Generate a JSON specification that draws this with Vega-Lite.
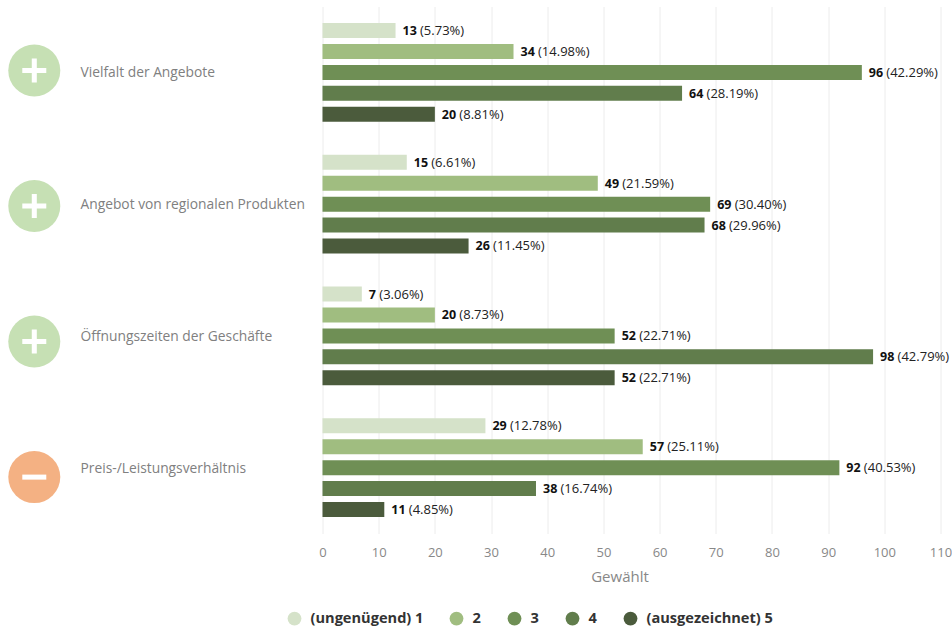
{
"$schema":"https://vega.github.io/schema/vega-lite/v6.json",
"width":618,"height":527,
"autosize":{"type":"none"},
"padding":{"left":322.5,"top":6.5,"right":11.5,"bottom":96.5},
"background":"white",
"config":{"view":{"stroke":null},"font":"Open Sans"},
"datasets":{
"rows":[
{"item":"Vielfalt der Angebote","rating":"(ungenügend) 1","count":13,"pct":"(5.73%)"},
{"item":"Vielfalt der Angebote","rating":"2","count":34,"pct":"(14.98%)"},
{"item":"Vielfalt der Angebote","rating":"3","count":96,"pct":"(42.29%)"},
{"item":"Vielfalt der Angebote","rating":"4","count":64,"pct":"(28.19%)"},
{"item":"Vielfalt der Angebote","rating":"(ausgezeichnet) 5","count":20,"pct":"(8.81%)"},
{"item":"Angebot von regionalen Produkten","rating":"(ungenügend) 1","count":15,"pct":"(6.61%)"},
{"item":"Angebot von regionalen Produkten","rating":"2","count":49,"pct":"(21.59%)"},
{"item":"Angebot von regionalen Produkten","rating":"3","count":69,"pct":"(30.40%)"},
{"item":"Angebot von regionalen Produkten","rating":"4","count":68,"pct":"(29.96%)"},
{"item":"Angebot von regionalen Produkten","rating":"(ausgezeichnet) 5","count":26,"pct":"(11.45%)"},
{"item":"Öffnungszeiten der Geschäfte","rating":"(ungenügend) 1","count":7,"pct":"(3.06%)"},
{"item":"Öffnungszeiten der Geschäfte","rating":"2","count":20,"pct":"(8.73%)"},
{"item":"Öffnungszeiten der Geschäfte","rating":"3","count":52,"pct":"(22.71%)"},
{"item":"Öffnungszeiten der Geschäfte","rating":"4","count":98,"pct":"(42.79%)"},
{"item":"Öffnungszeiten der Geschäfte","rating":"(ausgezeichnet) 5","count":52,"pct":"(22.71%)"},
{"item":"Preis-/Leistungsverhältnis","rating":"(ungenügend) 1","count":29,"pct":"(12.78%)"},
{"item":"Preis-/Leistungsverhältnis","rating":"2","count":57,"pct":"(25.11%)"},
{"item":"Preis-/Leistungsverhältnis","rating":"3","count":92,"pct":"(40.53%)"},
{"item":"Preis-/Leistungsverhältnis","rating":"4","count":38,"pct":"(16.74%)"},
{"item":"Preis-/Leistungsverhältnis","rating":"(ausgezeichnet) 5","count":11,"pct":"(4.85%)"}
],
"items":[
{"item":"Vielfalt der Angebote","rank":1,"sentiment":"plus"},
{"item":"Angebot von regionalen Produkten","rank":2,"sentiment":"plus"},
{"item":"Öffnungszeiten der Geschäfte","rank":3,"sentiment":"plus"},
{"item":"Preis-/Leistungsverhältnis","rank":4,"sentiment":"minus"}
]},
"resolve":{"scale":{"y":"independent"},"axis":{"y":"independent"}},
"layer":[
{"data":{"name":"rows"},
"encoding":{
"y":{"field":"item","type":"nominal","title":null,
"scale":{"domain":["Vielfalt der Angebote","Angebot von regionalen Produkten","Öffnungszeiten der Geschäfte","Preis-/Leistungsverhältnis"],"paddingInner":0,"paddingOuter":0},
"axis":{"domain":false,"ticks":false,"grid":false,"labelAlign":"left","labelPadding":242.5,"labelOffset":1,"labelFontSize":13.8,"labelColor":"#808080","labelFont":"Open Sans","labelLimit":300}},
"yOffset":{"field":"rating","type":"nominal","sort":["(ungenügend) 1","2","3","4","(ausgezeichnet) 5"],"scale":{"paddingInner":0.28,"paddingOuter":0.79}},
"x":{"field":"count","type":"quantitative","title":"Gewählt",
"scale":{"domain":[0,110],"nice":false},
"axis":{"values":[0,10,20,30,40,50,60,70,80,90,100,110],"domain":false,"ticks":false,"labelFlush":false,"gridColor":"#ececec","gridWidth":1,"labelPadding":13,"labelFontSize":13,"labelColor":"#888888","titleFontSize":15,"titleFontWeight":"normal","titleColor":"#888888","titlePadding":10,"titleX":297}}
},
"layer":[
{"mark":{"type":"bar","height":15},
"encoding":{
"color":{"field":"rating","type":"nominal",
"scale":{"domain":["(ungenügend) 1","2","3","4","(ausgezeichnet) 5"],"range":["#d5e2c9","#a0bd80","#6f8f55","#617d4c","#4b5b3c"]},
"legend":{"title":null,"orient":"none","direction":"horizontal","columns":5,"legendX":-36,"legendY":604,"symbolType":"circle","symbolSize":190,"labelFontSize":14.6,"labelFontWeight":"bold","labelColor":"#333333","columnPadding":25,"labelOffset":8}}
}},
{"mark":{"type":"text","align":"left","baseline":"middle","dx":7,"dy":0.5,"fontSize":12.5,"fontWeight":"bold","color":"#111111"},
"encoding":{"text":{"field":"count","type":"nominal"}}},
{"transform":[{"filter":"datum.count>=10"}],
"mark":{"type":"text","align":"left","baseline":"middle","dx":24.5,"dy":0.5,"fontSize":13,"color":"#222222"},
"encoding":{"text":{"field":"pct","type":"nominal"}}},
{"transform":[{"filter":"datum.count<10"}],
"mark":{"type":"text","align":"left","baseline":"middle","dx":17.5,"dy":0.5,"fontSize":13,"color":"#222222"},
"encoding":{"text":{"field":"pct","type":"nominal"}}}
]},
{"data":{"name":"items"},
"encoding":{
"x":{"datum":-51.3},
"y":{"field":"rank","type":"quantitative","title":null,"scale":{"domain":[4.416,0.528],"nice":false,"zero":false},"axis":null}
},
"layer":[
{"transform":[{"filter":"datum.sentiment==='plus'"}],
"mark":{"type":"point","filled":true,"shape":"circle","size":2704,"opacity":1,"color":"#c6e0b4"}},
{"transform":[{"filter":"datum.sentiment==='minus'"}],
"mark":{"type":"point","filled":true,"shape":"circle","size":2704,"opacity":1,"color":"#f4b183"}},
{"transform":[{"filter":"datum.sentiment==='plus'"}],
"mark":{"type":"point","filled":true,"size":576,"opacity":1,"color":"#ffffff","shape":"M-1,-0.21H-0.21V-1H0.21V-0.21H1V0.21H0.21V1H-0.21V0.21H-1Z"}},
{"transform":[{"filter":"datum.sentiment==='minus'"}],
"mark":{"type":"point","filled":true,"size":576,"opacity":1,"color":"#ffffff","shape":"M-1,-0.21H1V0.21H-1Z"}}
]}
]
}
